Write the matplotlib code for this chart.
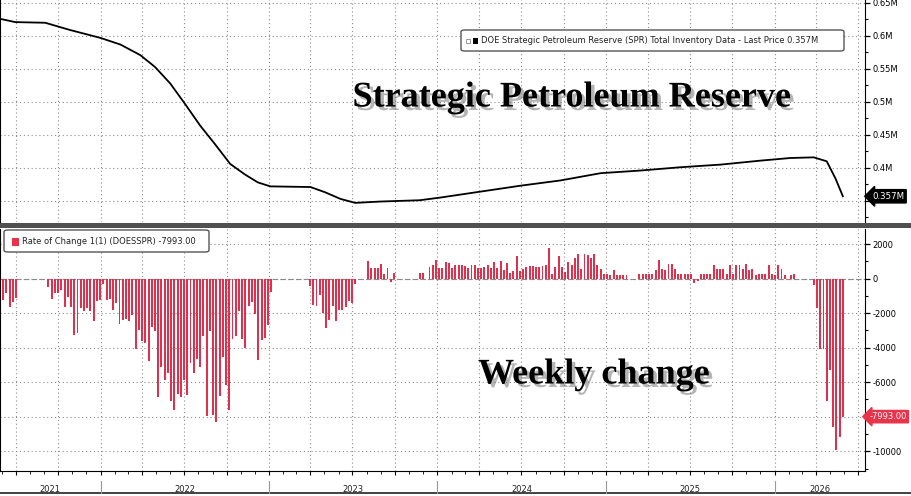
import matplotlib.pyplot as plt
import matplotlib.dates as mdates
import matplotlib.patheffects as pe
import matplotlib.transforms as mtransforms
from matplotlib.patches import Rectangle, FancyBboxPatch
from matplotlib.lines import Line2D
from matplotlib.ticker import FuncFormatter, MultipleLocator
import pandas as pd

# SPR total inventory (Bloomberg "M" units)
spr_dates = [
    "2021-05-28", "2021-06-30", "2021-09-03", "2021-10-27", "2022-01-01",
    "2022-02-13", "2022-03-28", "2022-04-29", "2022-06-01", "2022-07-03",
    "2022-08-05", "2022-09-06", "2022-10-09", "2022-11-10", "2022-12-08",
    "2023-01-04", "2023-04-01", "2023-05-03", "2023-06-05", "2023-07-07",
    "2023-08-30", "2023-11-24", "2024-01-07", "2024-04-03", "2024-06-29",
    "2024-09-24", "2024-12-20", "2025-03-16", "2025-06-11", "2025-09-06",
    "2025-12-01", "2026-02-04", "2026-03-27", "2026-04-24", "2026-05-13",
    "2026-05-29",
]
spr_level = [
    0.626, 0.621, 0.620, 0.609, 0.597,
    0.587, 0.571, 0.553, 0.528, 0.497,
    0.464, 0.436, 0.406, 0.390, 0.378,
    0.372, 0.371, 0.363, 0.353, 0.347,
    0.349, 0.351, 0.355, 0.364, 0.373,
    0.381, 0.392, 0.396, 0.401, 0.405,
    0.411, 0.415, 0.416, 0.410, 0.384,
    0.357,
]

# weekly change (thousand barrels), one value per week
week_start = "2021-06-04"
weekly_change = [
    -1240, -860, -1660, -1370, -1100,
    0, 0, 0, 0, 0, 0, 0, 0, 0,
    -480, -1180, -860, -820, -670, -1660, -1050, -1620, -3240, -3140,
    -1710, -1900, -1710, -1870, -2480, -1300, -1260, -290, -1240, -1200,
    -1810, -1430, -2630, -2380, -2320, -2480, -2100, -4100, -2950, -3620,
    -3710, -4760, -2820, -3010, -6860, -5110, -5870, -5490, -7090, -7580,
    -6670, -6860, -5870, -6760, -4910, -5490, -4670, -5110, -3330, -7960,
    -3010, -7910, -8290, -6820, -4530, -6190, -7580,
    -3490, -3330, -1870, -3490, -4040, -1580, -1370, -2060, -4710, -3580,
    -3430, -2710, -760,
    0, 0, 0, 0, 0, 0, 0, 0, 0, 0, 0,
    -420, -1520, -1580, -950, -2000, -2860, -2380, -1580, -2480, -1810,
    -1810, -1660, -1300, -1430, -340,
    0, 0, 0,
    990, 610, 610, 610, 820, 290, 610, -190, 340,
    0, 0, 0, 0, 0, 0, 0,
    340, 340, 0, 670, 760, 1050, 610, 610, 950, 910,
    610, 770, 770, 770, 710, 610, 770, 770, 610, 610,
    670, 810, 610, 960, 610, 1000, 480, 920, 350, 420,
    1310, 420, 540, 670, 710, 730, 670, 670, 700, 770,
    1770, 290, 670, 1290, 670, 380, 960, 810, 1190, 1400,
    580, 1400, 1380, 1190, 1440, 770, 540, 290, 290, 230,
    480, 230, 230, 230, 230, 0, 0, 0, 290, 290,
    290, 290, 290, 480, 1060, 540, 520, 860,
    860, 580, 290, 290, 290, 290, 290, -230, -120, 290,
    290, 290, 290, 810, 540, 540, 540, 290, 810, 290,
    810, 810, 540, 860, 480, 540, 230, 290, 290, 290,
    810, 290, 230, 810, 580, 230, 0, 230, 290,
    0, 0, 0, 0, 0,
    -350, -1700, -4100, -4100, -7100, -5300, -8600, -9900, -9200, -7993,
]

years = ["2021", "2022", "2023", "2024", "2025", "2026"]
top_ticks = [0.35, 0.4, 0.45, 0.5, 0.55, 0.6, 0.65]
bottom_ticks = [-10000, -8000, -6000, -4000, -2000, 0, 2000]
last_level = 0.357
last_change = -7993.00

W, H = 911, 496


def box(x0, y0, x1, y1):
    # pixel box (top-left origin) -> figure fraction rect
    return [x0 / W, 1 - y1 / H, (x1 - x0) / W, (y1 - y0) / H]


fig = plt.figure(figsize=(W / 100, H / 100), dpi=100)
ax1 = fig.add_axes(box(0, 0, 865, 222))
ax2 = fig.add_axes(box(0, 229, 865, 471), sharex=ax1)

spr_x = pd.to_datetime(spr_dates)
weeks = pd.date_range(week_start, periods=len(weekly_change), freq="7D")

ax1.plot(spr_x, spr_level, color="black", lw=1.3)
ax2.bar(weeks, weekly_change, width=4.2, color="#e0304e", lw=0, zorder=3)
ax2.axhline(0, color="#8a8a8a", lw=0.8, ls=(0, (5, 2)), zorder=2)

xmin, xmax = pd.Timestamp("2021-05-28"), pd.Timestamp("2026-07-16")
ax1.set_xlim(xmin, xmax)
ax1.set_ylim(0.318, 0.6545)
ax2.set_ylim(-11140, 2870)

# labels hidden under the last-value tags, as in the terminal chart
ax1.set_yticks(top_ticks)
ax1.yaxis.set_major_formatter(FuncFormatter(lambda v, p: "" if v < 0.375 else f"{v:g}M"))
ax1.yaxis.set_minor_locator(MultipleLocator(0.025))
ax2.set_yticks(bottom_ticks)
ax2.yaxis.set_major_formatter(FuncFormatter(lambda v, p: "" if v == -8000 else f"{v:.0f}"))
ax2.yaxis.set_minor_locator(MultipleLocator(1000))

for ax in (ax1, ax2):
    ax.yaxis.tick_right()
    ax.xaxis.set_major_locator(mdates.MonthLocator(bymonth=[1, 4, 7, 10]))
    ax.xaxis.set_minor_locator(mdates.MonthLocator())
    ax.grid(True, which="major", color="#8c8c8c", lw=0.8, ls=(0, (1, 2.5)))
    ax.spines["top"].set_visible(False)
    ax.tick_params(axis="y", which="major", direction="out", length=3.5,
                   width=0.9, labelsize=6, pad=2)
    ax.tick_params(axis="y", which="minor", direction="out", length=2, width=0.8)
    ax.tick_params(axis="x", which="both", labelbottom=False)
ax1.spines["bottom"].set_visible(False)
ax1.tick_params(axis="x", which="both", length=0)
ax2.tick_params(axis="x", which="major", length=3, direction="out")
ax2.tick_params(axis="x", which="minor", length=2, direction="out")

# last value tags on the right axis
ax1.text(1.008, last_level, f"{last_level}M", transform=ax1.get_yaxis_transform(),
         ha="left", va="center", color="white", fontsize=6.2, zorder=10,
         bbox=dict(boxstyle="larrow,pad=0.25", fc="black", ec="black"))
ax2.text(1.005, last_change, f"{last_change:.2f}", transform=ax2.get_yaxis_transform(),
         ha="left", va="center", color="white", fontsize=6, zorder=10,
         bbox=dict(boxstyle="larrow,pad=0.2", fc="#e8334a", ec="#e8334a"))

# separator between panels and bottom border
fig.add_artist(Rectangle((0, 1 - 228 / H), 1, 5 / H, transform=fig.transFigure,
                         color="#505050", lw=0))
fig.add_artist(Line2D([0, 1], [1 - 493 / H] * 2, transform=fig.transFigure,
                      color="#222222", lw=1.2))

# year labels with separators under the axis
trans = mtransforms.blended_transform_factory(ax2.transData, fig.transFigure)
bounds = [xmin] + [pd.Timestamp(f"{y}-01-01") for y in years[1:]] + [xmax]
for i, y in enumerate(years):
    mid = bounds[i] + (bounds[i + 1] - bounds[i]) / 2
    fig.text(mdates.date2num(mid), 1 - 489 / H, y, transform=trans,
             ha="center", va="center", fontsize=6, color="#222222")
for b in bounds[1:-1]:
    fig.add_artist(Line2D([mdates.date2num(b)] * 2, [1 - 481 / H, 1 - 493 / H],
                          transform=trans, color="#999999", lw=0.8))


# legends drawn as boxes
def legend_box(x0, y0, x1, y1):
    fig.add_artist(FancyBboxPatch((x0 / W, 1 - y1 / H), (x1 - x0) / W, (y1 - y0) / H,
                                  boxstyle="round,pad=0,rounding_size=0.004",
                                  transform=fig.transFigure, fc="white",
                                  ec="#555555", lw=1, zorder=5))


legend_box(461, 30, 844, 51)
fig.add_artist(Rectangle((466 / W, 1 - 43 / H), 4 / W, 4 / H, transform=fig.transFigure,
                         fc="white", ec="#888888", lw=0.6, zorder=6))
fig.add_artist(Rectangle((472.5 / W, 1 - 44 / H), 5.5 / W, 6 / H, transform=fig.transFigure,
                         fc="black", lw=0, zorder=6))
fig.text(481 / W, 1 - 40.7 / H,
         "DOE Strategic Petroleum Reserve (SPR) Total Inventory Data - Last Price 0.357M",
         ha="left", va="center", fontsize=6, color="#222222", zorder=7)

legend_box(4, 230, 209, 252)
fig.add_artist(Rectangle((12 / W, 1 - 246 / H), 7 / W, 8 / H, transform=fig.transFigure,
                         fc="#e8334a", lw=0, zorder=6))
fig.text(22 / W, 1 - 242 / H, "Rate of Change 1(1) (DOESSPR) -7993.00",
         ha="left", va="center", fontsize=6, color="#222222", zorder=7)

# big captions with shadow
shadow = [pe.withSimplePatchShadow(offset=(2.5, -2.5), shadow_rgbFace="#777777", alpha=0.55)]
fig.text(572 / W, 1 - 98 / H, "Strategic Petroleum Reserve", ha="center", va="center",
         fontsize=26, fontweight="bold", family="Liberation Serif", path_effects=shadow)
fig.text(594 / W, 1 - 375 / H, "Weekly change", ha="center", va="center",
         fontsize=26, fontweight="bold", family="Liberation Serif", path_effects=shadow)

fig.savefig("out.png", dpi=100)
